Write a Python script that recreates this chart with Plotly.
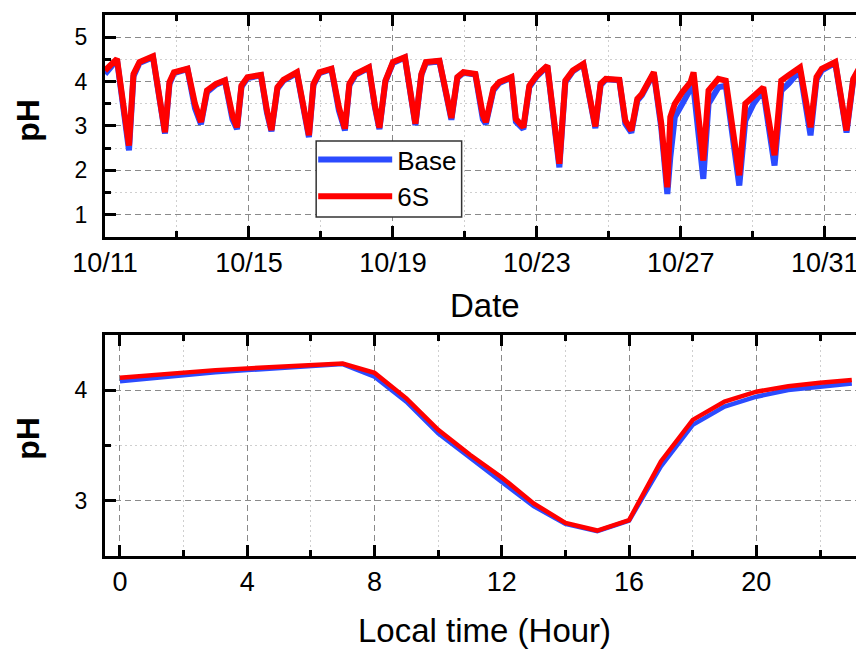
import plotly.graph_objects as go

# ---------------- Top panel: hourly pH time series (vertices) -------------
dates = [
    "2019-10-11 00:00", "2019-10-11 08:00", "2019-10-11 16:00", "2019-10-11 19:00", "2019-10-11 23:00",
    "2019-10-12 08:00", "2019-10-12 16:00", "2019-10-12 19:00", "2019-10-12 22:00",
    "2019-10-13 07:00", "2019-10-13 12:00", "2019-10-13 16:00", "2019-10-13 20:00",
    "2019-10-14 02:00", "2019-10-14 08:00", "2019-10-14 13:00", "2019-10-14 16:00", "2019-10-14 19:00", "2019-10-14 23:00",
    "2019-10-15 08:00", "2019-10-15 12:00", "2019-10-15 15:00", "2019-10-15 19:00", "2019-10-15 23:00",
    "2019-10-16 08:00", "2019-10-16 12:00", "2019-10-16 16:00", "2019-10-16 19:00", "2019-10-16 23:00",
    "2019-10-17 07:00", "2019-10-17 12:00", "2019-10-17 16:00", "2019-10-17 19:00", "2019-10-17 23:00",
    "2019-10-18 08:00", "2019-10-18 12:00", "2019-10-18 15:00", "2019-10-18 19:00",
    "2019-10-19 00:00", "2019-10-19 08:00", "2019-10-19 15:00", "2019-10-19 19:00", "2019-10-19 22:00",
    "2019-10-20 07:00", "2019-10-20 12:00", "2019-10-20 15:00", "2019-10-20 19:00", "2019-10-20 23:00",
    "2019-10-21 07:00", "2019-10-21 12:00", "2019-10-21 14:00", "2019-10-21 19:00", "2019-10-21 23:00",
    "2019-10-22 07:00", "2019-10-22 10:00", "2019-10-22 15:00", "2019-10-22 19:00",
    "2019-10-23 00:00", "2019-10-23 07:00", "2019-10-23 15:00", "2019-10-23 19:00",
    "2019-10-24 00:00", "2019-10-24 07:00", "2019-10-24 12:00", "2019-10-24 15:00", "2019-10-24 18:30", "2019-10-24 22:00",
    "2019-10-25 07:00", "2019-10-25 11:00", "2019-10-25 15:00", "2019-10-25 19:00", "2019-10-25 22:00",
    "2019-10-26 06:00", "2019-10-26 11:00", "2019-10-26 15:00", "2019-10-26 17:00", "2019-10-26 20:00",
    "2019-10-27 01:00", "2019-10-27 06:30", "2019-10-27 08:30", "2019-10-27 15:00", "2019-10-27 18:30",
    "2019-10-28 01:00", "2019-10-28 06:00", "2019-10-28 15:00", "2019-10-28 19:00",
    "2019-10-29 00:30", "2019-10-29 07:00", "2019-10-29 14:30", "2019-10-29 19:00", "2019-10-29 23:45",
    "2019-10-30 07:30", "2019-10-30 14:30", "2019-10-30 18:30", "2019-10-30 22:00",
    "2019-10-31 07:00", "2019-10-31 14:30", "2019-10-31 19:00", "2019-10-31 23:15",
    "2019-11-01 03:00",
]

s6_ts = [
    4.25, 4.51, 2.56, 4.17, 4.44,
    4.57, 2.86, 3.99, 4.21,
    4.29, 3.50, 3.09, 3.80,
    3.95, 4.03, 3.24, 2.97, 3.91, 4.10,
    4.15, 3.35, 2.91, 3.87, 4.04,
    4.21, 3.42, 2.79, 3.95, 4.21,
    4.29, 3.42, 2.94, 3.95, 4.17,
    4.32, 3.46, 2.96, 4.02,
    4.44, 4.55, 3.05, 4.17, 4.44,
    4.47, 3.65, 3.18, 4.10, 4.21,
    4.17, 3.25, 3.09, 3.84, 3.99,
    4.10, 3.16, 2.97, 3.91,
    4.14, 4.36, 2.15, 4.02,
    4.25, 4.40, 3.50, 2.99, 3.95, 4.06,
    4.04, 3.12, 2.90, 3.61, 3.72,
    4.21, 3.05, 1.62, 3.20, 3.50,
    3.76, 3.99, 4.21, 2.22, 3.80,
    4.06, 4.02, 1.89, 3.50,
    3.69, 3.87, 2.34, 4.02, 4.14,
    4.32, 2.97, 4.10, 4.29,
    4.44, 2.90, 4.06, 4.32,
    4.36,
]

base_ts = [
    4.17, 4.49, 2.45, 4.12, 4.42,
    4.55, 2.83, 3.95, 4.19,
    4.28, 3.40, 3.04, 3.76,
    3.93, 4.02, 3.15, 2.93, 3.88, 4.08,
    4.14, 3.30, 2.88, 3.84, 4.02,
    4.19, 3.38, 2.75, 3.92, 4.19,
    4.28, 3.35, 2.90, 3.92, 4.15,
    4.31, 3.42, 2.93, 4.00,
    4.42, 4.54, 3.02, 4.15, 4.42,
    4.46, 3.60, 3.14, 4.08, 4.20,
    4.16, 3.15, 3.05, 3.80, 3.97,
    4.09, 3.10, 2.93, 3.88,
    4.12, 4.35, 2.07, 3.99,
    4.23, 4.39, 3.45, 2.95, 3.92, 4.05,
    4.03, 3.05, 2.85, 3.57, 3.69,
    4.19, 2.95, 1.47, 2.30, 3.20,
    3.50, 3.84, 3.87, 1.81, 3.50,
    3.87, 3.91, 1.66, 3.12,
    3.50, 3.80, 2.11, 3.80, 3.95,
    4.25, 2.79, 4.05, 4.25,
    4.42, 2.85, 4.03, 4.30,
    4.34,
]

# ---------------- Bottom panel: mean diurnal cycle ----------------
hours = list(range(24))
s6_diurnal = [4.11, 4.135, 4.16, 4.18, 4.195, 4.21, 4.225, 4.24, 4.155, 3.925, 3.64, 3.415,
              3.21, 2.975, 2.80, 2.73, 2.825, 3.355, 3.73, 3.895, 3.985, 4.035, 4.065, 4.09]
base_diurnal = [4.08, 4.11, 4.135, 4.16, 4.18, 4.20, 4.22, 4.235, 4.12, 3.895, 3.61, 3.385,
                3.17, 2.95, 2.79, 2.725, 2.82, 3.31, 3.685, 3.85, 3.94, 4.00, 4.035, 4.06]

BLUE = "#2b4bff"
RED = "#ff0000"
FONT = "Arial, Liberation Sans, sans-serif"

fig = go.Figure()
fig.add_trace(go.Scatter(x=dates, y=base_ts, mode="lines", name="Base",
                         line=dict(color=BLUE, width=6), xaxis="x", yaxis="y"))
fig.add_trace(go.Scatter(x=dates, y=s6_ts, mode="lines", name="6S",
                         line=dict(color=RED, width=6), xaxis="x", yaxis="y"))
fig.add_trace(go.Scatter(x=hours, y=base_diurnal, mode="lines", showlegend=False,
                         line=dict(color=BLUE, width=4.5), xaxis="x2", yaxis="y2"))
fig.add_trace(go.Scatter(x=hours, y=s6_diurnal, mode="lines", showlegend=False,
                         line=dict(color=RED, width=4.5), xaxis="x2", yaxis="y2"))

def axis_style(tickfont_size):
    return dict(
        showline=True, linewidth=3, linecolor="black", mirror="ticks",
        ticks="inside", ticklen=11, tickwidth=3, tickcolor="black",
        showgrid=True, gridcolor="#8a8a8a", griddash="6px,4px", gridwidth=1,
        zeroline=False, tickfont=dict(family=FONT, size=tickfont_size, color="black"),
        ticklabelstandoff=0,
        minor=dict(ticks="inside", ticklen=6, tickwidth=3, tickcolor="black",
                   showgrid=True, gridcolor="#cfcfcf", griddash="2px,3px", gridwidth=1),
    )

DAY_MS = 86400000
xa = axis_style(27)
xa.update(type="date", range=["2019-10-11 00:00", "2019-11-01 05:30"], domain=[0, 1],
          anchor="y", tick0="2019-10-11", dtick=4 * DAY_MS, tickformat="%m/%d")
xa["minor"].update(dtick=2 * DAY_MS, tick0="2019-10-11")

ya = axis_style(23)
ya.update(range=[0.5, 5.5], domain=[0.6488, 0.9893], anchor="x", tick0=0, dtick=1,
          ticklabelstandoff=10)
ya["minor"].update(dtick=0.5, tick0=0)

xa2 = axis_style(27)
xa2.update(range=[-0.47, 23.54], domain=[0, 1], anchor="y2", tick0=0, dtick=4)
xa2["minor"].update(dtick=2, tick0=0)

ya2 = axis_style(23)
ya2.update(range=[2.5, 4.5], domain=[0.1595, 0.4989], anchor="x2", tick0=0, dtick=1,
           ticklabelstandoff=10)
ya2["minor"].update(dtick=0.5, tick0=0)

fig.update_layout(
    width=864, height=652,
    margin=dict(l=97, r=0, t=0, b=0),
    paper_bgcolor="white", plot_bgcolor="white",
    font=dict(family=FONT, color="black"),
    xaxis=xa, yaxis=ya, xaxis2=xa2, yaxis2=ya2,
    legend=dict(x=0.2725, y=0.8037, xanchor="left", yanchor="top",
                bgcolor="rgba(0,0,0,0)", borderwidth=0,
                font=dict(family=FONT, size=26, color="black"),
                itemwidth=74, tracegroupgap=0),
    shapes=[
        dict(type="rect", xref="paper", yref="paper", x0=0.2764, x1=0.4668, y0=0.6794, y1=0.796,
             line=dict(color="#333333", width=1.5), fillcolor="white", layer="above"),
    ],
    annotations=[
        dict(text="Date", x=0.498, y=(660 - 305) / 652, xref="paper", yref="paper",
             xanchor="center", yanchor="middle", showarrow=False,
             font=dict(family=FONT, size=33, color="black")),
        dict(text="Local time (Hour)", x=0.497, y=(660 - 630) / 652, xref="paper", yref="paper",
             xanchor="center", yanchor="middle", showarrow=False,
             font=dict(family=FONT, size=33, color="black")),
        dict(text="<b>pH</b>", x=-0.101, y=(660 - 120) / 652, xref="paper", yref="paper",
             xanchor="center", yanchor="middle", showarrow=False, textangle=-90,
             font=dict(family=FONT, size=32, color="black")),
        dict(text="<b>pH</b>", x=-0.101, y=(660 - 438) / 652, xref="paper", yref="paper",
             xanchor="center", yanchor="middle", showarrow=False, textangle=-90,
             font=dict(family=FONT, size=32, color="black")),
    ],
)

fig.write_html("out.html")
